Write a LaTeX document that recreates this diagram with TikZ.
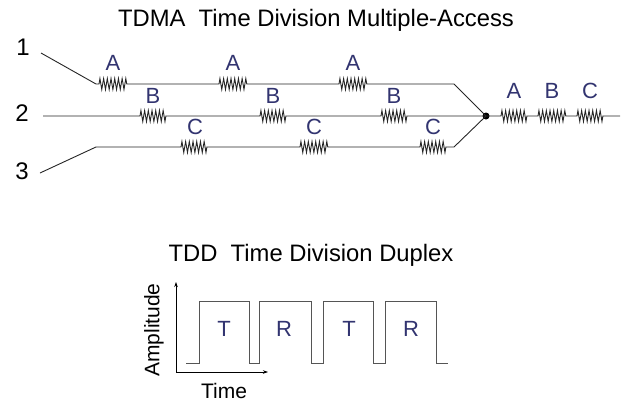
\documentclass[tikz,border=0pt]{standalone}
\usepackage{fontspec}
\setmainfont{Liberation Sans}
\usetikzlibrary{decorations.pathmorphing,arrows.meta}
\definecolor{lblblue}{RGB}{50,52,112}
\definecolor{wavegray}{RGB}{85,85,85}
\tikzset{
  wire/.style={draw=black!85, line width=0.9pt},
  spring/.style={decorate, decoration={zigzag, segment length=3.7pt, amplitude=5.5pt}},
  slot/.style={text=lblblue, font=\fontsize{22}{24}\selectfont, inner sep=0pt},
  title/.style={font=\fontsize{23.8}{26}\selectfont, inner sep=0pt},
  num/.style={font=\fontsize{24}{26}\selectfont, inner sep=0pt},
  axlabel/.style={font=\fontsize{21}{23}\selectfont, inner sep=0pt},
  tr/.style={text=lblblue, font=\fontsize{22}{24}\selectfont, inner sep=0pt},
}
\begin{document}
\begin{tikzpicture}[x=1pt,y=-1pt]
\useasboundingbox (0,0) rectangle (621,402);
% titles
\node[title] (t1) at (316,20) {TDMA\ \ Time Division Multiple-Access};
\node[title] (t2) at (311,255) {TDD\ \ Time Division Duplex};
% inputs
\node[num] (n1) at (23,47) {1};
\node[num] (n2) at (22,113) {2};
\node[num] (n3) at (22,171) {3};
\coordinate (s1) at (41,53);
\coordinate (s2) at (43,116);
\coordinate (s3) at (40,173);
\coordinate (k1) at (96,84);
\coordinate (k3) at (96,147);
\coordinate (e1) at (454,84);
\coordinate (e3) at (454,147);
\coordinate (out) at (620,116);
\node[circle, fill=black, inner sep=0pt, minimum size=7pt] (dot) at (486,116) {};
% line 1
\draw[wire] (s1) -- (k1) -- (99,84) decorate[spring]{-- (127,84)} -- (219,84)
  decorate[spring]{-- (247,84)} -- (339,84) decorate[spring]{-- (367,84)} -- (e1) -- (dot.center);
% line 2
\draw[wire] (s2) -- (140,116) decorate[spring]{-- (167,116)} -- (260,116)
  decorate[spring]{-- (287,116)} -- (381,116) decorate[spring]{-- (408,116)} -- (dot.center);
% line 3
\draw[wire] (s3) -- (k3) -- (181,147) decorate[spring]{-- (208,147)} -- (300,147)
  decorate[spring]{-- (328,147)} -- (420,147) decorate[spring]{-- (447,147)} -- (e3) -- (dot.center);
% output
\draw[wire] (dot.center) -- (501,116) decorate[spring]{-- (528,116)} -- (538,116)
  decorate[spring]{-- (566,116)} -- (577,116) decorate[spring]{-- (604,116)} -- (out);
% slot labels
\node[slot] (a1) at (113,63) {A};
\node[slot] (a2) at (233,63) {A};
\node[slot] (a3) at (353,63) {A};
\node[slot] (b1) at (153,96) {B};
\node[slot] (b2) at (273,96) {B};
\node[slot] (b3) at (394,96) {B};
\node[slot] (c1) at (195,127) {C};
\node[slot] (c2) at (314,127) {C};
\node[slot] (c3) at (433,127) {C};
\node[slot] (oa) at (514,91) {A};
\node[slot] (ob) at (552,91) {B};
\node[slot] (oc) at (590,91) {C};
% TDD axes
\coordinate (origin) at (176,372);
\coordinate (ytop) at (176,282);
\coordinate (xend) at (268,372);
\draw[line width=0.7pt, -{Stealth[length=5pt,width=3.5pt]}] (origin) -- (ytop);
\draw[line width=0.7pt, -{Stealth[length=5pt,width=3.5pt]}] (origin) -- (xend);
\node[axlabel, rotate=90] (amp) at (154,330) {Amplitude};
\node[axlabel] (time) at (224,391) {Time};
% square wave
\draw[draw=wavegray, line width=0.9pt] (186,363) -- (199,363) -- (199,301) -- (249,301) -- (249,363)
  -- (259,363) -- (259,301) -- (311,301) -- (311,363) -- (323,363) -- (323,301) -- (373,301)
  -- (373,363) -- (385,363) -- (385,301) -- (436,301) -- (436,363) -- (448,363);
\node[tr] (T1) at (224,329) {T};
\node[tr] (R1) at (284,329) {R};
\node[tr] (T2) at (349,329) {T};
\node[tr] (R2) at (411,329) {R};
\end{tikzpicture}
\end{document}
